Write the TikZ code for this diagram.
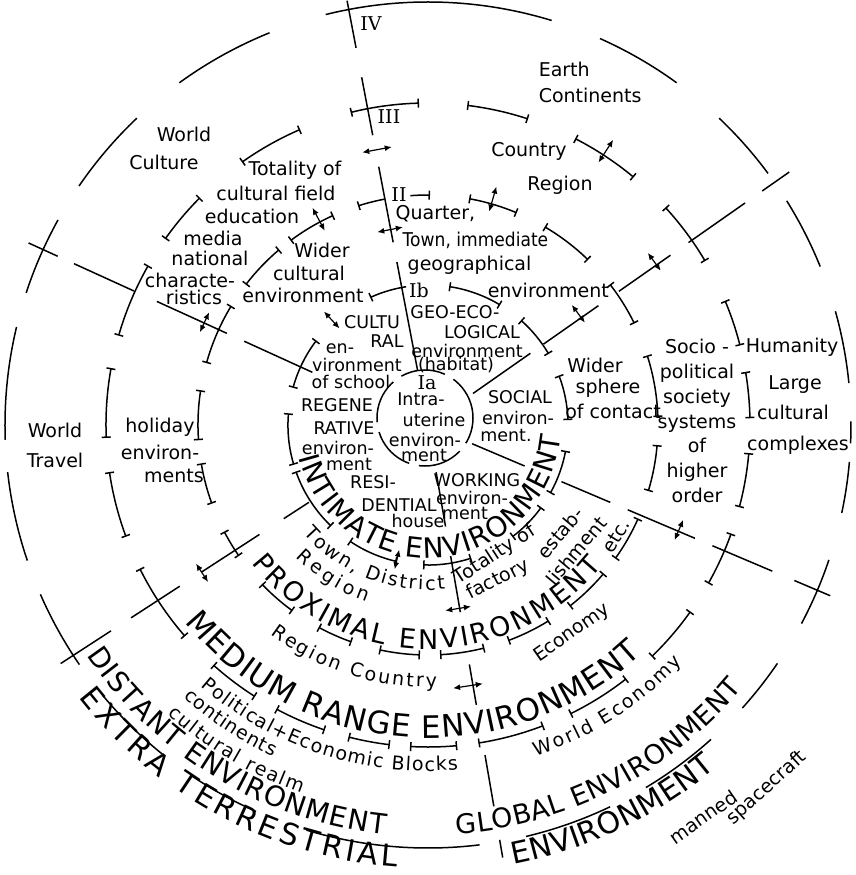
\documentclass[tikz,border=0pt]{standalone}
\usepackage{fontspec}
\setmainfont{DejaVu Sans}
\newfontfamily\numfont{DejaVu Serif}
\usepackage{tikz}
\usetikzlibrary{arrows.meta,decorations.text}

\newcommand\envA{\fontsize{28}{30}\selectfont}
\newcommand\envB{\fontsize{27}{30}\selectfont}
\newcommand\envC{\fontsize{30}{32}\selectfont}
\newcommand\envD{\fontsize{31}{33}\selectfont}
\newcommand\envS{\fontsize{19}{22}\selectfont}

\begin{document}
\begin{tikzpicture}[x=1pt, y=1pt, line width=1.5pt,
  brk/.style={{Bar[width=9pt]}-{Bar[width=9pt]}},
  dbl/.style={line width=1.2pt, {Latex[length=7pt,width=6pt]}-{Latex[length=7pt,width=6pt]}},
  lab/.style={inner sep=0pt, font=\fontsize{19}{22}\selectfont},
  inl/.style={inner sep=0pt, font=\fontsize{17.5}{20}\selectfont},
  num/.style={inner sep=0pt, font={\numfont\fontsize{19}{22}\selectfont}}]
  \useasboundingbox (-428,-450) rectangle (428,425);

  \def\arctext#1#2#3#4#5{
    \path[decorate, decoration={text along path, text align={fit to path},
      text={|#5|#4}}] (#1:#3) arc[start angle=#1, end angle=#2, radius=#3];
  }

  % Ring IV (plain arcs)
  \foreach \a/\b in {73/104, 54/66, 36.5/46.5, 22/32, 5.7/15.6, -2.5/0.5,
      -12/-5, -28/-18.6, -42/-34.3, -59/-48, -76.6/-64.5, -106.7/-83,
      236/246, 219.7/231.2, 203.6/214.5, 186.4/198.7, 166.6/182,
      151/161.8, 133.5/145.6, 112/126}
    \draw (\a:423) arc[start angle=\a, end angle=\b, radius=423];

  % Ring III
  \foreach \a/\b in {91.6/103.9, 71.9/83, 50.3/62.8, 30.6/42.5, 14.3/22.7,
      1.2/9.5, -14.8/-5, -29.5/-19.7, -46/-35.4, -63.8/-52, -81/-69,
      -93.2/-84.8, 255.7/263.2, 241.9/251.3, 228.2/237.5, 206.5/221,
      188.4/200.3, 169.8/182.3, 150.3/163.9, 135.1/144.7, 113.4/125.3}
    \draw[brk] (\a:322) arc[start angle=\a, end angle=\b, radius=322];

  % Ring II
  \foreach \a/\b in {67.3/79.7, 45.9/59.5, 26.2/37.7, 2/17.6, -16.7/-5,
      -35.5/-24, -52/-40.2, -69.6/-58.3, -87/-75.8, 257.8/268, 241.6/250.6,
      223.8/233.9, 207.6/214.7, 189.6/200, 171.3/183.8, 148.8/164.4,
      130.3/142.4, 114.3/126.7}
    \draw[brk] (\a:230) arc[start angle=\a, end angle=\b, radius=230];
  \draw[-{Bar[width=9pt]}] (101:230) arc[start angle=101, end angle=107.7, radius=230];
  \draw[-{Bar[width=9pt]}] (94.4:230) arc[start angle=94.4, end angle=89.5, radius=230];

  % Ring Ib
  \foreach \a/\b in {59/81.3, 30.5/48.4, 2/20.7, -29.2/-10.6, -53/-36,
      -92/-72, 236/257, 199.4/226.2, 175.2/196.5, 142.9/164.6}
    \draw[brk] (\a:140) arc[start angle=\a, end angle=\b, radius=140];
  \draw[-{Bar[width=9pt]}] (99:140) arc[start angle=99, end angle=114.4, radius=140];

  % Ring Ia
  \draw[dash pattern=on 45pt off 10pt] (-3,7) circle[radius=48];

  % radial lines
  \foreach \a/\r/\s in {100.8/56/166, 100.8/186/263, 100.8/295/354, 100.8/384/432,
      -80.2/48/103, -80.2/133/190, -80.2/243/284, -80.2/335/387, -80.2/421/439,
      35/55/125, 35/141/208, 35/233/296, 35/318/387, 35/408/441,
      155.5/127/202, 155.5/221/298, 155.5/323/389, 155.5/407/439,
      -23/48/105, -23/145/198, -23/217/290, -23/309/374, -23/398/437,
      213/142/172, 213/201/270, 213/296/354, 213/378/438}
    \draw (\a:\r) -- (\a:\s);

  % double arrows across the lines
  \foreach \a/\r/\h in {100.5/280/15, 101/199/13, 155.3/246/11, 213.2/270/11,
      -80.7/186/13, -81.3/264/15, -22.7/272/11, 36.5/187/11, 35.8/279/11}
    \draw[dbl, shift={(\a:\r)}, rotate=\a] (0,-\h) -- (0,\h);
  \foreach \a/\r/\s in {118/220/246, 132.5/131/154, 57/313/340, 74/222/248, 257/128/148}
    \draw[dbl] (\a:\r) -- (\a:\s);

  % outer labels
  \node[num] (iv) at (-57,401) {IV};
  \node[lab, anchor=west] (earth) at (110,356) {Earth};
  \node[lab, anchor=west] (continents) at (110,330) {Continents};
  \node[lab] (worldc) at (-244,291) {World};
  \node[lab] (culture) at (-264,263) {Culture};
  \node[lab] (worldt) at (-373,-5) {World};
  \node[lab] (travel) at (-373,-35) {Travel};
  \node[lab] (humanity) at (364,78) {Humanity};
  \node[lab] (large) at (367,40) {Large};
  \node[lab] (cultural) at (365,13) {cultural};
  \node[lab] (complexes) at (370,-20) {complexes};

  % ring III - II labels
  \node[num] (iii) at (-39,308) {III};
  \node[lab] (tot1) at (-133,255) {Totality of};
  \node[lab] (tot2) at (-152,232) {cultural field};
  \node[lab] (tot3) at (-176,209) {education};
  \node[lab] (tot4) at (-215,187) {media};
  \node[lab] (tot5) at (-218,167) {national};
  \node[lab] (tot6) at (-238,145) {characte-};
  \node[lab] (tot7) at (-234,128) {ristics};
  \node[lab] (country) at (101,274) {Country};
  \node[lab] (region) at (132,240) {Region};
  \node[lab, align=center, font=\fontsize{19}{24.8}\selectfont] (socio) at (269,4)
    {Socio -\\political\\society\\systems\\of\\higher\\order};
  \node[lab] (hol1) at (-268,-2) {holiday};
  \node[lab] (hol2) at (-268,-27) {environ-};
  \node[lab] (hol3) at (-254,-51) {ments};

  % ring II - Ib labels
  \node[num] (ii) at (-29,230) {II};
  \node[lab, anchor=west] (q1) at (-33,211) {Quarter,};
  \node[lab, anchor=west, xscale=0.9] (q2) at (-26,185) {Town, immediate};
  \node[lab, anchor=west] (q3) at (-21,160) {geographical};
  \node[lab, anchor=west] (q4) at (59,135) {environment};
  \node[lab] (wc1) at (-106,175) {Wider};
  \node[lab] (wc2) at (-119,152) {cultural};
  \node[lab] (wc3) at (-125,130) {environment};
  \node[lab] (ws1) at (167,60) {Wider};
  \node[lab] (ws2) at (180,37) {sphere};
  \node[lab] (ws3) at (185,14) {of contact};
  \node[lab, rotate=33] (fac1) at (67,-130) {Totality of};
  \node[lab, rotate=27] (fac2) at (70,-155) {factory};
  \node[lab, rotate=50] (est1) at (132,-108) {estab-};
  \node[lab, rotate=50] (est2) at (148,-126) {lishment};
  \node[lab, rotate=58] (etc) at (188,-111) {etc.};
  \node[lab, rotate=35] (econ) at (144,-208) {Economy};
  \node[lab, rotate=35] (manned) at (275,-392) {manned};
  \node[lab, rotate=42] (craft) at (339,-363) {spacecraft};

  % inner labels
  \node[num] (ib) at (-9,135) {Ib};
  \node[inl] (geo1) at (27,113) {GEO-ECO-};
  \node[inl] (geo2) at (54,93) {LOGICAL};
  \node[inl] (geo3) at (39,74) {environment};
  \node[inl] (geo4) at (28,60) {(habitat)};
  \node[inl] (cul1) at (-56,103) {CULTU};
  \node[inl] (cul2) at (-41,84) {RAL};
  \node[inl] (sch1) at (-88,76) {en-};
  \node[inl] (sch2) at (-71,60) {vironment};
  \node[inl] (sch3) at (-77,43) {of school};
  \node[num] (ia) at (-1,42) {Ia};
  \node[inl] (int1) at (-7,26) {Intra-};
  \node[inl] (int2) at (6,5) {uterine};
  \node[inl] (int3) at (-3,-15) {environ-};
  \node[inl] (int4) at (-4,-30) {ment};
  \node[inl] (soc1) at (92,28) {SOCIAL};
  \node[inl] (soc2) at (90,7) {environ-};
  \node[inl] (soc3) at (78,-10) {ment.};
  \node[inl] (reg1) at (-91,20) {REGENE};
  \node[inl] (reg2) at (-84,-3) {RATIVE};
  \node[inl] (reg3) at (-90,-23) {environ-};
  \node[inl] (reg4) at (-79,-39) {ment};
  \node[inl] (res1) at (-55,-57) {RESI-};
  \node[inl] (res2) at (-29,-80) {DENTIAL};
  \node[inl] (res3) at (-10,-96) {house};
  \node[inl] (wor1) at (49,-55) {WORKING};
  \node[inl] (wor2) at (44,-73) {environ-};
  \node[inl] (wor3) at (37,-88) {ment};

  % environment names along the rings
  \arctext{194}{355}{133}{INTIMATE ENVIRONMENT}{\envA}
  \arctext{218}{321}{224}{PROXIMAL ENVIRONMENT}{\envB}
  \arctext{219}{313}{313}{MEDIUM RANGE ENVIRONMENT}{\envD}
  \arctext{214}{264}{412}{DISTANT ENVIRONMENT}{\envA}
  \arctext{274}{320}{410}{GLOBAL ENVIRONMENT}{\envB}
  \arctext{218}{266}{443}{EXTRA TERRESTRIAL}{\envC}
  \arctext{281}{310}{448}{ENVIRONMENT}{\envC}
  \arctext{221}{276}{165}{Town, District}{\envS}
  \arctext{225}{251}{187}{Region}{\envS}
  \arctext{233}{272}{262}{Region Country}{\envS}
  \arctext{229}{275}{346}{Political+Economic Blocks}{\envS}
  \arctext{228}{245}{366}{continents}{\envS}
  \arctext{228}{251}{389}{cultural realm}{\envS}
  \arctext{288}{317}{348}{World Economy}{\envS}
\end{tikzpicture}
\end{document}
